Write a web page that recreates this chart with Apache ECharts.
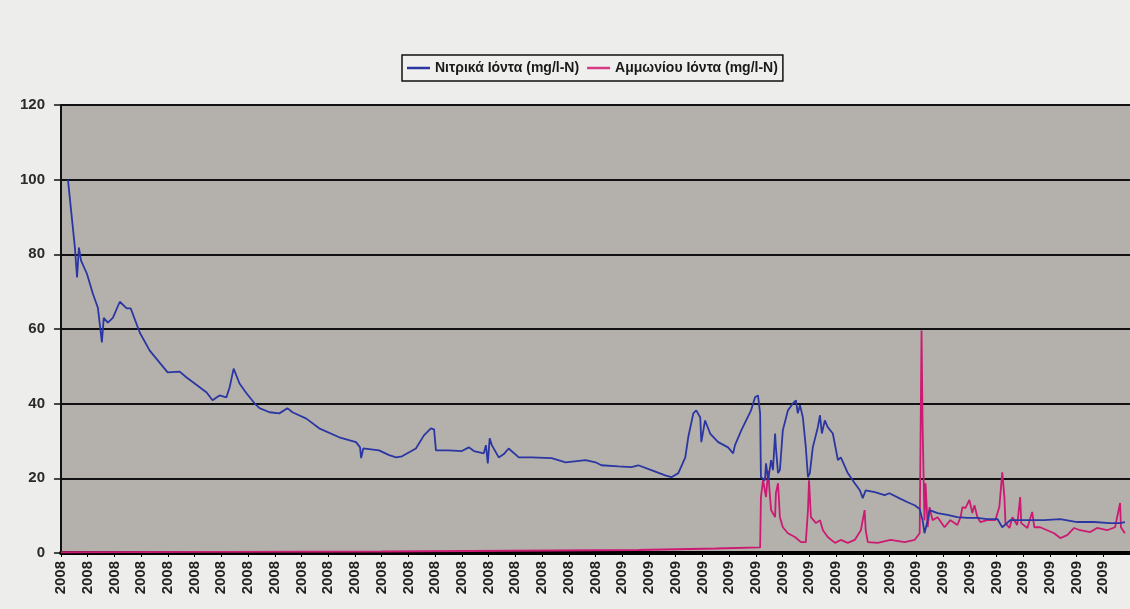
<!DOCTYPE html>
<html>
<head>
<meta charset="utf-8">
<script src="https://cdn.jsdelivr.net/npm/echarts@6/dist/echarts.min.js"></script>
<style>
  html, body { margin: 0; padding: 0; background: #ededeb; }
  #chart { width: 1130px; height: 609px; }
</style>
</head>
<body>
<div id="chart"></div>
<script>
// x = sample index (10 samples per axis label), y = mg/l-N
const tickLabels = [
  "2008","2008","2008","2008","2008","2008","2008","2008","2008","2008",
  "2008","2008","2008","2008","2008","2008","2008","2008","2008","2008","2008",
  "2009","2009","2009","2009","2009","2009","2009","2009","2009","2009",
  "2009","2009","2009","2009","2009","2009","2009","2009","2009"
];
const seriesNames = ["Νιτρικά Ιόντα (mg/l-N)", "Αμμωνίου Ιόντα (mg/l-N)"];

const nitrate = [
  [2.6,100],[5.2,81.8],[6.0,73.8],[6.7,81.8],[7.5,78.3],[9.7,74.8],[11.9,69.5],[13.8,65.7],
  [15.3,56.4],[16.0,63],[17.5,61.7],[19.4,63],[22.0,67.3],[24.6,65.5],[26.1,65.5],[29.5,59],
  [33.2,54.2],[36.9,51],[39.9,48.4],[44.4,48.6],[47.0,47],[51.9,44.4],[54.5,43],[56.7,40.9],
  [59.3,42.2],[61.9,41.7],[63.1,44.4],[64.6,49.4],[66.8,45.4],[69.4,42.8],[72.4,40.1],[74.3,38.8],
  [78.0,37.7],[81.7,37.4],[84.7,38.8],[86.6,37.7],[91.8,36],[96.6,33.4],[104.1,31],[110.4,29.7],
  [111.9,28.3],[112.3,25.4],[113.1,28],[119.0,27.5],[122.8,26.2],[125.4,25.6],[127.6,25.9],[132.8,28],
  [135.8,31.5],[138.4,33.4],[139.6,33.1],[140.3,27.5],[145.1,27.5],[150.0,27.3],[152.6,28.3],[154.5,27.3],
  [158.2,26.7],[159.0,28.9],[159.7,24],[160.4,30.7],[161.2,28.9],[163.8,25.6],[165.7,26.5],[167.5,28],
  [171.3,25.6],[176.1,25.6],[183.6,25.4],[188.8,24.3],[196.3,24.9],[200.0,24.3],[202.2,23.5],[208.6,23.2],
  [213.4,23],[216.0,23.5],[220.9,22.2],[226.1,20.8],[228.4,20.3],[231.0,21.4],[233.6,25.6],[234.7,31],
  [236.6,37.4],[237.7,38.2],[239.2,36.3],[239.6,29.7],[241.0,35.5],[242.9,32],[245.9,29.7],[249.6,28.3],
  [251.5,26.7],[252.2,28.9],[254.5,32.8],[258.2,38.2],[259.7,41.7],[260.8,42.2],[261.6,37.4],[261.9,20.3],
  [263.4,19.5],[263.8,24],[264.6,19.5],[265.7,24.9],[266.4,22.2],[267.2,32],[267.5,28.3],[268.3,21.4],
  [269.0,22.2],[270.1,32.9],[272.0,38.2],[273.9,40.1],[275.0,40.9],[275.7,37.4],[276.5,39.6],[277.6,36.3],
  [278.7,28.3],[279.5,20.3],[280.2,21.4],[281.3,28.3],[283.2,33.7],[284.0,36.9],[284.7,32],[285.8,35.5],
  [286.9,33.7],[288.8,32],[290.7,24.9],[291.8,25.6],[294.4,21.4],[297.0,18.7],[298.9,16.8],[300.0,14.7],
  [301.1,16.8],[304.5,16.3],[308.2,15.5],[310.0,16],[313.6,14.7],[316.8,13.6],[319.4,12.8],[321.3,11.8],
  [322.4,8.8],[323.1,5.3],[324.3,8.8],[325.0,11.5],[328.0,10.7],[331.7,10.2],[335.4,9.6],[339.2,9.4],
  [342.9,9.4],[346.6,9.1],[350.4,9.1],[352.2,6.9],[355.2,8.8],[361.6,8.8],[367.9,8.8],[373.9,9.1],
  [380.2,8.3],[386.6,8.3],[392.5,8],[396.3,8],[398.1,8.3]
];

const ammonium = [
  [0,0.2],[60,0.3],[120,0.4],[216,0.8],[245,1.2],[261.6,1.5],
  [261.9,15],[262.7,19.5],[263.8,15],[264.6,22],[265.3,15],[265.7,11.5],[267.2,9.6],[267.5,16],
  [268.3,18.7],[269.0,9.6],[270.1,6.9],[272.0,5.3],[274.6,4.3],[276.9,2.9],[278.7,2.9],[279.5,11.5],
  [279.9,19.5],[280.6,9.6],[282.5,8],[284.0,8.8],[285.1,6.1],[286.9,4.3],[289.6,2.7],[291.8,3.5],
  [294.4,2.7],[297.0,3.5],[299.3,6.1],[300.7,11.5],[301.1,6.1],[301.9,2.9],[305.6,2.7],[310.4,3.5],
  [315.7,2.9],[319.4,3.5],[321.3,5.3],[322.0,59.6],[322.4,33.7],[323.1,8.8],[323.5,18.7],[324.3,6.9],
  [325.0,12.3],[326.1,8.8],[328.0,9.6],[330.6,6.9],[332.8,8.8],[335.4,7.5],[336.6,9.6],[337.3,12.3],
  [338.4,12],[339.9,14.2],[341.0,10.7],[341.8,12.8],[342.9,9.6],[344.0,8.3],[346.6,8.8],[349.6,8.8],
  [351.1,12.3],[352.2,21.6],[353.0,15],[353.4,8],[354.9,6.7],[356.0,9.6],[357.8,7.5],[358.9,15],
  [359.3,8],[361.6,6.7],[363.4,11],[364.2,6.9],[366.4,6.9],[369.0,6.1],[371.6,5.3],[373.9,4],
  [376.5,4.8],[379.1,6.7],[381.3,6.1],[385.1,5.6],[387.7,6.7],[391.4,6.1],[394.4,6.9],[396.3,13.4],
  [396.6,6.9],[398.1,5.3]
];

const chart = echarts.init(document.getElementById('chart'));
chart.setOption({
  backgroundColor: '#ededeb',
  animation: false,
  legend: {
    top: 55,
    left: 402,
    data: seriesNames,
    icon: 'rect',
    itemWidth: 23,
    itemHeight: 2.5,
    itemGap: 8,
    padding: [6, 5, 6, 5],
    borderColor: '#111',
    borderWidth: 1.5,
    backgroundColor: '#efefed',
    textStyle: { fontFamily: 'Liberation Sans, Arial, sans-serif', fontSize: 14, fontWeight: 'bold', color: '#1a1a1a' }
  },
  grid: {
    left: 61, top: 105, width: 1072, height: 448,
    show: true, backgroundColor: '#b4b1ac', borderWidth: 0
  },
  xAxis: {
    type: 'value', min: 0, max: 400, interval: 10,
    axisLine: { show: true, lineStyle: { color: '#000', width: 4 } },
    axisTick: { show: true, length: 4, lineStyle: { color: '#000', width: 1 } },
    splitLine: { show: false },
    axisLabel: {
      rotate: 90, margin: 8, fontSize: 15, fontWeight: 'bold', color: '#222',
      fontFamily: 'Liberation Sans, Arial, sans-serif',
      formatter: function (v) { const i = Math.round(v / 10); return tickLabels[i] || ''; }
    }
  },
  yAxis: {
    type: 'value', min: 0, max: 120, interval: 20,
    axisLine: { show: true, lineStyle: { color: '#111', width: 2 } },
    axisTick: { show: true, length: 7, lineStyle: { color: '#111', width: 1.5 } },
    splitLine: { show: true, lineStyle: { color: '#111', width: 2 } },
    axisLabel: { fontSize: 15, fontWeight: 'bold', color: '#2a2a2a', margin: 16, fontFamily: 'Liberation Sans, Arial, sans-serif' }
  },
  series: [
    {
      name: seriesNames[0], type: 'line', data: nitrate, showSymbol: false,
      lineStyle: { color: '#2b36a3', width: 1.8 }, itemStyle: { color: '#2b36a3' }, z: 3
    },
    {
      name: seriesNames[1], type: 'line', data: ammonium, showSymbol: false,
      lineStyle: { color: '#cc1a72', width: 1.8 }, itemStyle: { color: '#d43a86' }, z: 2
    }
  ]
});
</script>
</body>
</html>
